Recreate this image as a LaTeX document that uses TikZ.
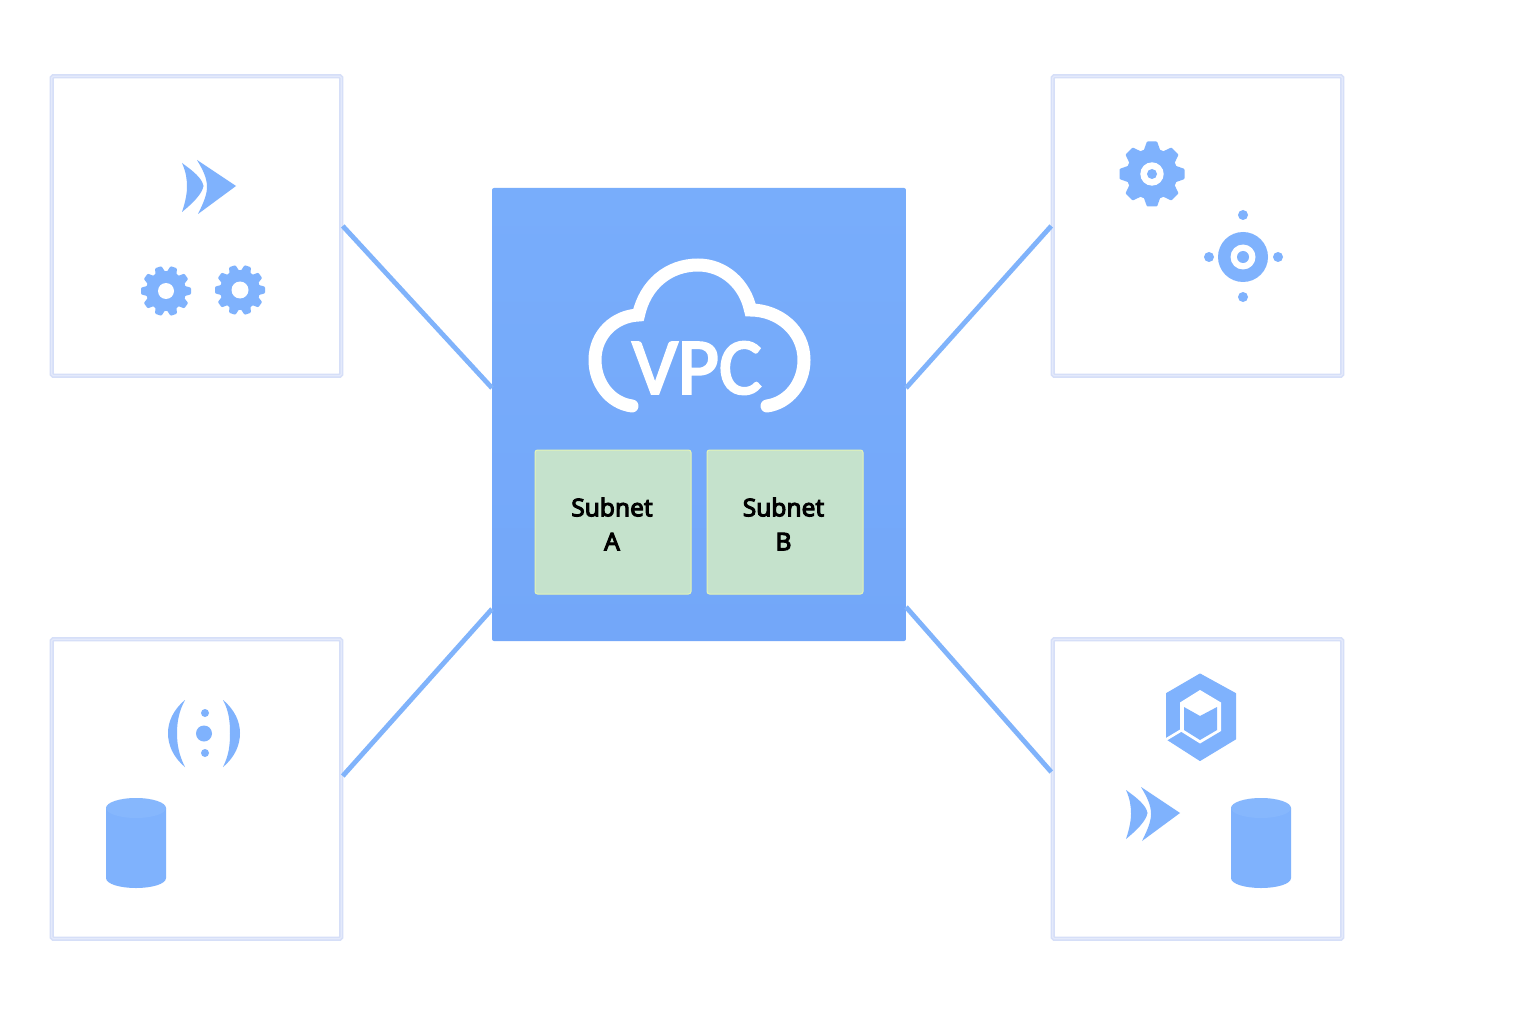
\documentclass[tikz,border=0pt]{standalone}
\usepackage{fontspec}
\usetikzlibrary{calc}
\setmainfont{Noto Sans}
\newfontfamily\vpcfont[FakeBold=3]{Carlito}
\newfontfamily\subfont[FakeBold=4]{Noto Sans}
\definecolor{iconblue}{HTML}{7FB2FD}
\definecolor{linkblue}{HTML}{80B3FB}
\definecolor{frameblue}{HTML}{D6DFF8}
\definecolor{framelight}{HTML}{E4EAFB}
\definecolor{boxtop}{HTML}{78ADFB}
\definecolor{boxbot}{HTML}{73A7F9}
\definecolor{subfill}{HTML}{C5E2CC}
\definecolor{subedge}{HTML}{E3F4B8}
\definecolor{cyltop}{HTML}{86B7FD}
\tikzset{
 panel/.style={draw=frameblue,line width=4.4pt,fill=white,rounded corners=1.5pt,minimum width=289.5pt,minimum height=299.5pt,inner sep=0pt,outer sep=1.5pt},
 panelcore/.style={draw=framelight,line width=1.2pt,rounded corners=1.5pt,minimum width=289.5pt,minimum height=299.5pt,inner sep=0pt,outer sep=0pt},
 vpcbox/.style={top color=boxtop,bottom color=boxbot,rounded corners=2pt,minimum width=414pt,minimum height=453pt,inner sep=0pt,outer sep=0pt},
 subnetbox/.style={fill=subfill,draw=subedge,line width=1pt,rounded corners=2.5pt,minimum width=156pt,minimum height=144pt,inner sep=0pt},
 subtext/.style={font=\subfont\fontsize{24.5}{34}\selectfont,align=center,inner sep=0pt,text=black},
 link/.style={draw=linkblue,line width=4.8pt},
 iconfill/.style={fill=iconblue},
 cloudline/.style={draw=white,line width=13pt,line cap=round,line join=miter},
}
\newcommand{\gearicon}[7]{% x y R rbody n tooth-halfwidth start
 \begin{scope}[shift={(#1,#2)}]
  \fill[iconfill] (0,0) circle (#4pt);
  \pgfmathsetmacro{\gstep}{360/#5}
  \foreach \k in {1,...,#5}{
   \pgfmathsetmacro{\gang}{#7+\k*\gstep}
   \fill[iconfill,draw=iconblue,line width=2.4pt,line join=round,rotate=\gang]
    (-#6,#4-2) -- ({-0.6*#6},#3-1.2) -- ({0.6*#6},#3-1.2) -- (#6,#4-2) -- cycle;
  }
 \end{scope}}
\newcommand{\arrowicon}[2]{% tip position
 \begin{scope}[shift={(#1,#2)}]
  \fill[iconfill] (-39,-26) -- (0,0) -- (-38,28) .. controls (-32,16) and (-29,8) .. (-29,1) .. controls (-29,-8) and (-33,-16) .. (-39,-26) -- cycle;
  \fill[iconfill] (-54,-23) .. controls (-43,-15) and (-34,-8) .. (-32.5,0) .. controls (-34,8) and (-43,17) .. (-54,26) .. controls (-50,14) and (-49,6) .. (-49,1) .. controls (-49,-7) and (-50,-14) .. (-54,-23) -- cycle;
 \end{scope}}
\newcommand{\cylicon}[1]{% left x
 \begin{scope}[shift={(#1,0)}]
  \fill[iconfill] (0,808) -- (0,878) .. controls (0,884) and (14,888) .. (30,888) .. controls (46,888) and (60,884) .. (60,878) -- (60,808) -- cycle;
  \fill[cyltop] (30,808) ellipse (30pt and 10pt);
 \end{scope}}
\begin{document}
\begin{tikzpicture}[x=1pt,y=-1pt]
\useasboundingbox (0,0) rectangle (1536,1024);
\fill[white] (0,0) rectangle (1536,1024);
% panels
\node[panel] (tl) at (196.5,226) {};
\node[panel] (tr) at (1197.5,226) {};
\node[panel] (bl) at (196.5,789) {};
\node[panel] (br) at (1197.5,789) {};
\node[panelcore] at (tl.center) {};
\node[panelcore] at (tr.center) {};
\node[panelcore] at (bl.center) {};
\node[panelcore] at (br.center) {};
% VPC
\node[vpcbox] (vpc) at (699,414.5) {};
\coordinate (vtl) at (492,388);
\coordinate (vtr) at (906,388);
\coordinate (vbl) at (492,609);
\coordinate (vbr) at (906,607);
\draw[link] (tl.east) -- (vtl);
\draw[link] (tr.west) -- (vtr);
\draw[link] ($(bl.east)+(0,-13)$) -- (vbl);
\draw[link] ($(br.west)+(0,-17)$) -- (vbr);
\node[subnetbox] (sa) at (613,522) {};
\node[subnetbox] (sb) at (785,522) {};
\node[subtext] (la) at (612,524) {Subnet\\A};
\node[subtext] (lb) at (783.5,524) {Subnet\\B};
% cloud
\draw[cloudline] (632,406) .. controls (610,403) and (595,383) .. (595,360)
 .. controls (595,334) and (615,316) .. (638.5,315)
 .. controls (645,285) and (668,265) .. (698,265)
 .. controls (724,265) and (745,284) .. (750.5,310)
 .. controls (778,310) and (804,330) .. (804,360)
 .. controls (804,384) and (788,403) .. (767,406);
\node[text=white,font=\vpcfont\fontsize{80}{80}\selectfont,inner sep=0pt] (vpclabel) at (697,368) {VPC};
% top-left icons
\arrowicon{236}{186}
\gearicon{166}{291}{25}{20}{10}{4}{18}
\fill[white] (166,291) circle (8pt);
\gearicon{240}{290}{25}{20}{10}{4}{18}
\fill[white] (240,290) circle (8.5pt);
% top-right icons
\gearicon{1152}{174}{32.5}{25.5}{8}{7}{0}
\fill[white] (1152,174) circle (11.7pt);
\fill[iconfill] (1152,174) circle (5pt);
\fill[iconfill] (1243,257) circle (25pt);
\fill[white] (1243,257) circle (12.5pt);
\fill[iconfill] (1243,257) circle (6pt);
\fill[iconfill] (1243,215) circle (5pt);
\fill[iconfill] (1243,297) circle (5pt);
\fill[iconfill] (1209,257) circle (5pt);
\fill[iconfill] (1278,257) circle (5pt);
% bottom-left icons
\fill[iconfill] (185,700) .. controls (173,710) and (168,722) .. (168,733) .. controls (168,745) and (173,757) .. (185,767) .. controls (179,755) and (177,745) .. (177,733) .. controls (177,722) and (179,711) .. (185,700) -- cycle;
\fill[iconfill] (223,700) .. controls (235,710) and (240,722) .. (240,733) .. controls (240,745) and (235,757) .. (223,767) .. controls (229,755) and (230,745) .. (230,733) .. controls (230,722) and (229,711) .. (223,700) -- cycle;
\fill[iconfill] (205,713) circle (4pt);
\fill[iconfill] (204,733.5) circle (8pt);
\fill[iconfill] (205,753) circle (4pt);
\cylicon{106}
% bottom-right icons
\fill[iconfill,draw=iconblue,line width=1pt,line join=round] (1200,674) -- (1235.5,693.5) -- (1235.5,739) -- (1200,760.5) -- (1166.5,739) -- (1166.5,693.5) -- cycle;
\fill[white] (1200,690) -- (1221,702.5) -- (1221,731) -- (1200,743.5) -- (1180,731) -- (1180,702.5) -- cycle;
\fill[iconfill] (1184,707) -- (1200,716) -- (1217,707) -- (1217,730) -- (1200,740) -- (1184,730) -- cycle;
\draw[white,line width=2.6pt] (1181,730.5) -- (1166,739.5);
\arrowicon{1180}{813}
\cylicon{1231}
\end{tikzpicture}
\end{document}
